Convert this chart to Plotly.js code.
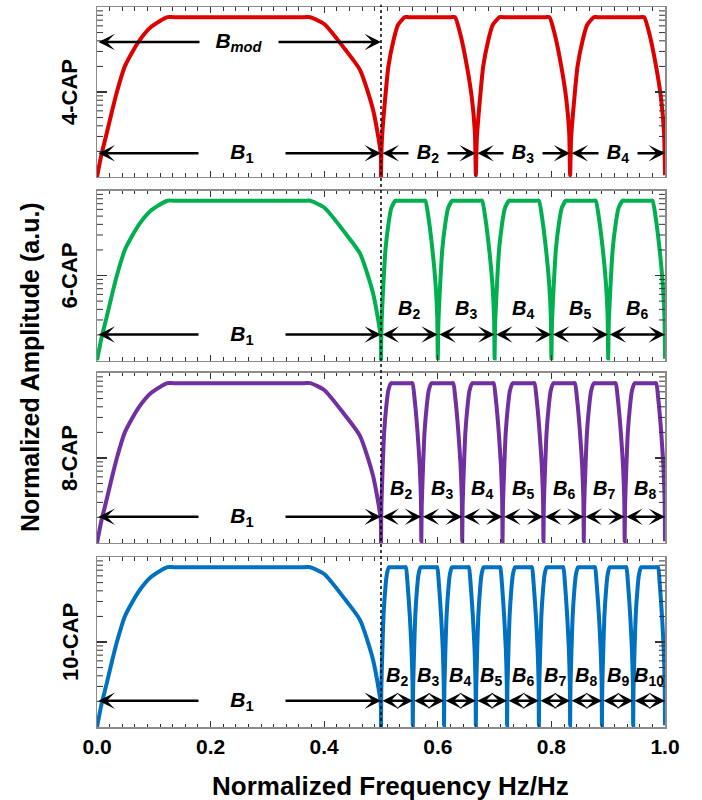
<!DOCTYPE html>
<html><head><meta charset="utf-8">
<script src="https://cdn.plot.ly/plotly-3.0.1.min.js"></script>
<style>html,body{margin:0;padding:0;background:#fff}#chart{width:702px;height:800px}</style>
</head><body><div id="chart"></div>
<script>
// ---------- data ----------
const xTickVals = [0.0, 0.2, 0.4, 0.6, 0.8, 1.0];
const xTickText = ['0.0', '0.2', '0.4', '0.6', '0.8', '1.0'];
const xMinorPerMajor = 9;             // minor tick intervals per 0.2 step
const ampDecades = [1, 100];          // amplitude range shown (a.u.)
const ampMinorTicks = [2, 3, 4, 5, 6, 7, 8, 9, 20, 30, 40, 50, 60, 70, 80, 90];
const panelNames = ['4-CAP', '6-CAP', '8-CAP', '10-CAP'];
const panelColors = ['#dd0000', '#00b050', '#7030a0', '#0070c0'];

// B1 spectrum: normalized frequency vs amplitude (a.u.)
const b1Freq = [0.000, 0.008, 0.017, 0.027, 0.035, 0.049, 0.073, 0.096, 0.124, 0.135, 0.250, 0.365, 0.375, 0.400, 0.437, 0.463, 0.486, 0.4995, 0.500];
const b1Amp  = [1.00, 1.86, 3.24, 6.17, 10.0, 20.0, 38.9, 58.9, 75.9, 75.9, 75.9, 75.9, 75.9, 63.1, 31.6, 18.2, 6.17, 1.90, 1.00];

// sub-band spectrum shape: position as fraction of band width vs amplitude (a.u.)
const subPos = [0.000, 0.010, 0.042, 0.078, 0.132, 0.180, 0.252, 0.290, 0.740, 0.780, 0.834, 0.906, 0.960, 0.990, 1.000];
const subAmp = [1.05, 2.8, 7.9, 20.0, 40.7, 61.7, 75.9, 75.9, 75.9, 75.9, 49.0, 20.0, 8.1, 3.3, 1.05];

// sub-band edges per panel (normalized frequency)
const edges4  = [0.5, 0.667, 0.833, 1.0];
const edges6  = [0.5, 0.6, 0.7, 0.8, 0.9, 1.0];
const edges8  = [0.5, 0.571, 0.643, 0.714, 0.786, 0.857, 0.929, 1.0];
const edges10 = [0.5, 0.556, 0.611, 0.667, 0.722, 0.778, 0.833, 0.889, 0.944, 1.0];
const panelEdges = [edges4, edges6, edges8, edges10];

// arrow / label levels (a.u.)
const arrowLevel = [1.90, 2.02, 2.04, 2.04];
const subLabelLevel = [1.90, 3.98, 4.2, 3.9];
const bmodLevel = 38.7;
const b1Range = [0.0, 0.5];

// ---------- build ----------
const FONT = 'Liberation Sans, Arial, sans-serif';
const domains = [[0.7639, 1.0], [0.5090, 0.7451], [0.2556, 0.4917], [0.0, 0.2361]];
const logLo = Math.log10(ampDecades[0]), logHi = Math.log10(ampDecades[1]);
const minorLen = 6 / 568; // minor tick length as fraction of the plot width
const traces = [];
const annotations = [];
const shapes = [{type: 'line', xref: 'x4', yref: 'paper', x0: 0.5, x1: 0.5, y0: 0, y1: 1.003,
  line: {color: '#000', width: 1.5, dash: 'dot'}, layer: 'above'}];
const layout = {
  width: 702, height: 800,
  margin: {l: 97, r: 37, t: 7, b: 73},
  paper_bgcolor: '#fff', plot_bgcolor: '#fff',
  font: {family: FONT, color: '#000'},
  showlegend: false
};

const labFont = {family: FONT, size: 21, weight: 'bold', color: '#000'};
const subFont = {family: FONT, size: 20, weight: 'bold', color: '#000'};

function arrow(xr, yr, x0, x1, lv) {
  return {xref: xr, yref: yr, axref: xr, ayref: yr, x: x1, ax: x0, y: Math.log10(lv), ay: Math.log10(lv),
    text: '', showarrow: true, arrowside: 'end+start',
    arrowhead: 3, startarrowhead: 3, arrowsize: 1.1, startarrowsize: 1.1,
    arrowwidth: 2.5, arrowcolor: '#000', standoff: 0, startstandoff: 0};
}

for (let p = 0; p < 4; p++) {
  const sfx = p === 0 ? '' : String(p + 1);
  const xr = 'x' + sfx, yr = 'y' + sfx;
  const xs = [], ys = [];
  b1Freq.forEach((f, i) => { xs.push(f); ys.push(b1Amp[i]); });
  const e = panelEdges[p];
  for (let k = 0; k < e.length - 1; k++) {
    const a = e[k], b = e[k + 1];
    subPos.forEach((u, i) => {
      if (i === 0 && k > 0) return; // shared edge point with previous band
      xs.push(a + u * (b - a)); ys.push(subAmp[i]);
    });
  }
  traces.push({x: xs, y: ys, type: 'scatter', mode: 'lines', xaxis: xr, yaxis: yr,
    line: {color: panelColors[p], width: 4, shape: 'spline', smoothing: 0.6}, hoverinfo: 'skip'});

  const bottom = p === 3;
  layout['xaxis' + sfx] = {
    domain: [0, 1], anchor: yr, range: [0, 1], showgrid: false, zeroline: false,
    showline: true, linecolor: '#8c8c8c', linewidth: 1.5, mirror: 'ticks',
    ticks: 'inside', ticklen: 6, tickwidth: 1.2, tickcolor: '#333',
    tickmode: 'array', tickvals: xTickVals, ticktext: xTickText,
    showticklabels: bottom,
    tickfont: {family: FONT, size: 21, weight: 'bold', color: '#000'},
    minor: {ticks: 'inside', ticklen: 3.5, tickwidth: 1, tickcolor: '#333',
            dtick: (xTickVals[1] - xTickVals[0]) / xMinorPerMajor, tick0: 0}
  };
  layout['yaxis' + sfx] = {
    domain: domains[p], anchor: xr, type: 'log', range: [logLo, logHi], dtick: 1,
    showgrid: false, zeroline: false, showline: true, linecolor: '#8c8c8c', linewidth: 1.5, mirror: 'ticks',
    ticks: 'inside', ticklen: 10, tickwidth: 1.2, tickcolor: '#333', showticklabels: false
  };

  // minor amplitude ticks (left and right edges), placed on the axis domain
  ampMinorTicks.forEach(v => {
    const fy = (Math.log10(v) - logLo) / (logHi - logLo);
    [[0, minorLen], [1 - minorLen, 1]].forEach(([a, b]) => {
      shapes.push({type: 'line', xref: xr + ' domain', yref: yr + ' domain', x0: a, x1: b, y0: fy, y1: fy,
        line: {color: '#333', width: 1}, layer: 'above'});
    });
  });

  // B1 arrow + label
  annotations.push(arrow(xr, yr, b1Range[0], b1Range[1], arrowLevel[p]));
  annotations.push({xref: xr, yref: yr, x: 0.255, y: Math.log10(arrowLevel[p]), text: '<i>B</i><sub>1</sub>',
    showarrow: false, font: labFont, bgcolor: '#fff', width: 84, xanchor: 'center', yanchor: 'middle'});

  // sub-band arrows + labels
  for (let k = 0; k < e.length - 1; k++) {
    annotations.push(arrow(xr, yr, e[k], e[k + 1], arrowLevel[p]));
  }
  for (let k = 0; k < e.length - 1; k++) {
    const lab = {xref: xr, yref: yr, x: (e[k] + e[k + 1]) / 2, y: Math.log10(subLabelLevel[p]),
      text: '<i>B</i><sub>' + (k + 2) + '</sub>', showarrow: false, font: subFont,
      xanchor: 'center', yanchor: 'middle'};
    if (p === 0) { lab.bgcolor = '#fff'; lab.width = 36; }
    annotations.push(lab);
  }

  // panel name
  annotations.push({xref: 'paper', yref: 'paper', x: -0.0475, y: (domains[p][0] + domains[p][1]) / 2,
    text: panelNames[p], textangle: -90, showarrow: false, xanchor: 'center', yanchor: 'middle',
    font: {family: FONT, size: 22, weight: 'bold', color: '#000'}});
}

// B_mod arrow + label in 4-CAP panel
annotations.push(arrow('x', 'y', b1Range[0], b1Range[1], bmodLevel));
annotations.push({xref: 'x', yref: 'y', x: 0.25, y: Math.log10(bmodLevel), text: '<i>B<sub>mod</sub></i>',
  showarrow: false, font: labFont, bgcolor: '#fff', width: 76, xanchor: 'center', yanchor: 'middle'});

// axis titles
annotations.push({xref: 'paper', yref: 'paper', x: -0.118, y: 0.5, text: 'Normalized Amplitude (a.u.)',
  textangle: -90, showarrow: false, xanchor: 'center', yanchor: 'middle',
  font: {family: FONT, size: 25, weight: 'bold', color: '#000'}});
annotations.push({xref: 'paper', yref: 'paper', x: 0.516, y: -0.0825, text: 'Normalized Frequency Hz/Hz',
  showarrow: false, xanchor: 'center', yanchor: 'middle',
  font: {family: FONT, size: 26, weight: 'bold', color: '#000'}});

layout.annotations = annotations;
layout.shapes = shapes;
Plotly.newPlot('chart', traces, layout, {displayModeBar: false, staticPlot: true});
</script>
</body></html>
